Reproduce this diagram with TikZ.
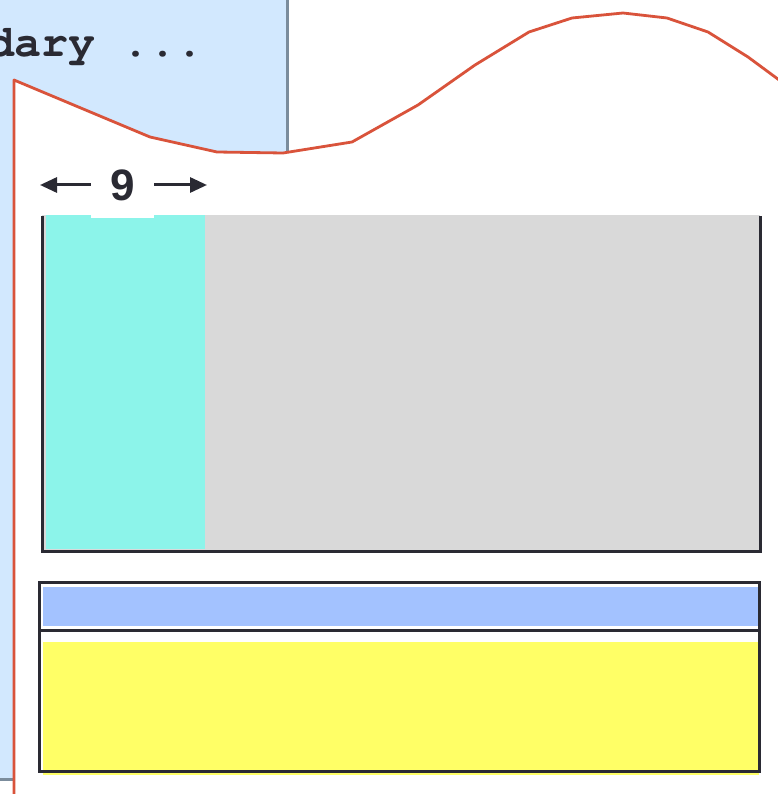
\documentclass[tikz,border=0pt]{standalone}
\usepackage{fontspec}
\setmainfont{Liberation Sans}
\setmonofont{texgyrecursor}[Extension=.otf,UprightFont=*-regular,BoldFont=*-bold]
\usetikzlibrary{arrows.meta,positioning}
\definecolor{PanelBlue}{HTML}{D2E8FE}
\definecolor{PanelEdge}{HTML}{7B8C9C}
\definecolor{WaveRed}{HTML}{D9533B}
\definecolor{InkDark}{HTML}{2A2A33}
\definecolor{BlockGray}{HTML}{D9D9D9}
\definecolor{BlockCyan}{HTML}{8CF4EA}
\definecolor{BarBlue}{HTML}{A3C2FF}
\definecolor{BarYellow}{HTML}{FFFF66}

\begin{document}
\begin{tikzpicture}[x=1pt,y=-1pt,
    wave/.style={draw=WaveRed,line width=2.8pt,line join=round},
    frame/.style={draw=InkDark,line width=3pt},
    dimarrow/.style={-{Stealth[length=17pt,width=15pt,inset=0pt]},line width=3pt,color=InkDark},
    dimlabel/.style={fill=white,text=InkDark,inner sep=0pt,
                     minimum width=63pt,minimum height=66pt,
                     font=\bfseries\fontsize{44}{44}\selectfont}
  ]
    \useasboundingbox (0,0) rectangle (777,794);
    % panel behind the page
    \fill[PanelBlue] (-10,-10) rectangle (287,779);
    \draw[PanelEdge,line width=3pt] (287,-10) -- (287,779) -- (-10,779);
    \node[anchor=base west,inner sep=0pt,text=InkDark,
          font=\ttfamily\bfseries\fontsize{45}{45}\selectfont] (title) at (-12.5,57) {dary ...};
    % torn page
    \fill[white] (14,800) -- (14,80) -- (150,137) -- (217,152) -- (283,153) -- (352,142)
      -- (418,105) -- (475,65) -- (529,32) -- (572,18) -- (623,13) -- (667,18)
      -- (708,32) -- (748,57) -- (790,88) -- (790,800) -- cycle;
    \draw[wave] (14,800) -- (14,80) -- (150,137) -- (217,152) -- (283,153) -- (352,142)
      -- (418,105) -- (475,65) -- (529,32) -- (572,18) -- (623,13) -- (667,18)
      -- (708,32) -- (748,57) -- (790,88);
    % upper block
    \fill[BlockGray] (42,215) rectangle (760,551);
    \fill[BlockCyan] (46,215) rectangle (205,549);
    \draw[frame] (42,216) -- (42,551) -- (760,551) -- (760,216);
    % width mark
    \node[dimlabel] (width9) at (122.5,185) {9};
    \coordinate (markL) at (40,185);
    \coordinate (markR) at (207,185);
    \draw[dimarrow] (width9.west) -- (markL);
    \draw[dimarrow] (width9.east) -- (markR);
    % lower block
    \fill[BarBlue] (43,587) rectangle (759,626);
    \fill[BarYellow] (43,642) rectangle (759,775);
    \draw[frame] (39,582) rectangle (759,771);
    \draw[frame] (39,630) -- (759,630);
\end{tikzpicture}
\end{document}
